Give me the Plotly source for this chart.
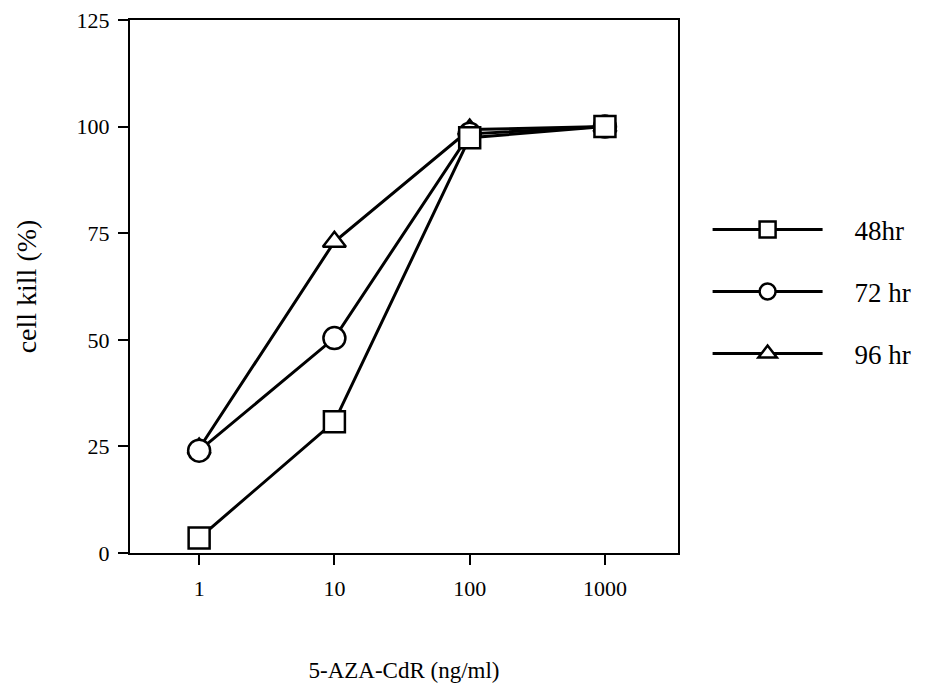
import plotly.graph_objects as go

doses = [1, 10, 100, 1000]
series_names = ["48hr", "72 hr", "96 hr"]
kill_48 = [3.5, 30.8, 97.4, 100]
kill_72 = [24.0, 50.4, 98.3, 100]
kill_96 = [24.5, 73.0, 99.3, 100]
symbols = ["square", "circle", "triangle-up"]
y_ticks = [0, 25, 50, 75, 100, 125]
x_ticks = [1, 10, 100, 1000]

FONT = "Liberation Serif"
NB = "\u00a0" * 4
fig = go.Figure()
data = [kill_48, kill_72, kill_96]
sizes = [21, 22, 20]
# draw 96 first so 48 is on top
for i in [2, 1, 0]:
    fig.add_trace(go.Scatter(
        x=doses, y=data[i], name=NB + series_names[i], mode="lines+markers",
        line=dict(color="black", width=3),
        marker=dict(symbol=symbols[i], size=sizes[i], color="white",
                    line=dict(color="black", width=2.5)),
        legendrank=i + 1, legendgroup="g%d" % i,
    ))

fig.update_layout(
    width=928, height=696,
    margin=dict(l=130, r=250, t=20, b=143, autoexpand=False),
    paper_bgcolor="white", plot_bgcolor="white",
    font=dict(family=FONT, color="black"),
    showlegend=True,
    legend=dict(x=1.054, y=0.49, xanchor="left", yanchor="middle",
                font=dict(family=FONT, size=27), itemwidth=110,
                tracegroupgap=24, bgcolor="rgba(0,0,0,0)"),
    xaxis=dict(type="log", range=[-0.511, 3.54], tickvals=x_ticks,
               ticktext=[str(v) for v in x_ticks],
               showline=True, mirror=True, linecolor="black", linewidth=2,
               ticks="outside", ticklen=10, tickwidth=2, tickcolor="black",
               showgrid=False, zeroline=False, ticklabelstandoff=5,
               tickfont=dict(family=FONT, size=22),
               title=dict(text="5-AZA-CdR (ng/ml)", font=dict(family=FONT, size=23), standoff=61)),
    yaxis=dict(range=[0, 125], tickvals=y_ticks,
               showline=True, mirror=True, linecolor="black", linewidth=2,
               ticks="outside", ticklen=10, tickwidth=2, tickcolor="black",
               showgrid=False, zeroline=False, ticklabelstandoff=4,
               tickfont=dict(family=FONT, size=22),
               title=dict(text="cell kill (%)", font=dict(family=FONT, size=28), standoff=32)),
)

fig.write_html("out.html")
